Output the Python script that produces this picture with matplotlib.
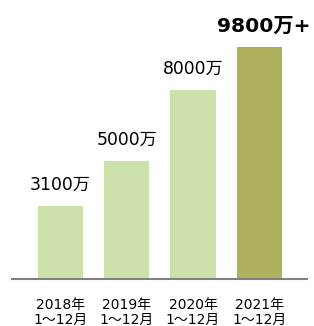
import matplotlib
matplotlib.use('Agg')
import matplotlib.pyplot as plt

plt.rcParams['font.family'] = ['DejaVu Sans', 'Noto Sans CJK JP']

years = ['2018年\n1～12月', '2019年\n1～12月', '2020年\n1～12月', '2021年\n1～12月']
values = [3100, 5000, 8000, 9800]
labels = ['3100万', '5000万', '8000万', '9800万+']
colors = ['#cde2ab', '#cde2ab', '#cde2ab', '#aeb25e']

fig = plt.figure(figsize=(3.14, 3.26), dpi=100)
ax = fig.add_axes([12 / 314, 47 / 326, 295 / 314, 279 / 326])

x = range(len(values))
ax.bar(x, values, width=0.68, color=colors)
for i, (v, lab) in enumerate(zip(values, labels)):
    last = i == len(values) - 1
    ax.annotate(lab, (i, v), xytext=(3 if last else 0, 11), textcoords='offset points',
                ha='center', va='baseline',
                fontsize=14.6 if last else 12.4,
                fontweight='bold' if last else 'normal')

ax.set_xlim(-0.73, 3.72)
ax.set_ylim(0, 11780)
ax.set_xticks(list(x))
ax.set_xticklabels(years, fontsize=10, linespacing=1.15)
ax.tick_params(axis='x', length=0, pad=13.5)
ax.set_yticks([])
for s in ['top', 'right', 'left']:
    ax.spines[s].set_visible(False)
ax.spines['bottom'].set_color('#808080')
ax.spines['bottom'].set_linewidth(1.5)

fig.savefig('out.png', dpi=100)
